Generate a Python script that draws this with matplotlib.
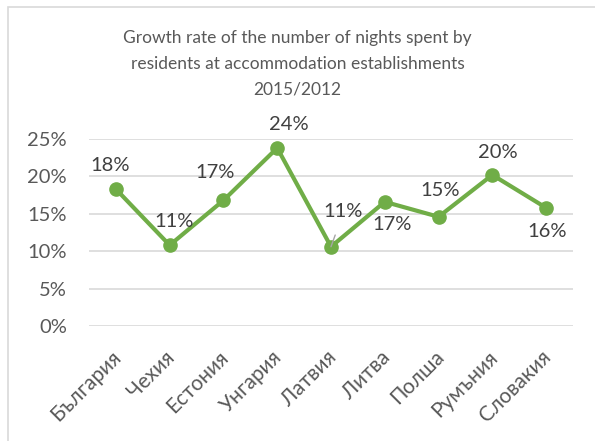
import matplotlib.pyplot as plt
from matplotlib.patches import Rectangle
from matplotlib.ticker import FuncFormatter
from matplotlib.transforms import ScaledTranslation

plt.rcParams['font.family'] = ['Lato', 'DejaVu Sans']

countries = ['България', 'Чехия', 'Естония', 'Унгария', 'Латвия',
             'Литва', 'Полша', 'Румъния', 'Словакия']
growth = [18.3, 10.8, 16.8, 23.8, 10.6, 16.6, 14.6, 20.2, 15.8]
labels = ['18%', '11%', '17%', '24%', '11%', '17%', '15%', '20%', '16%']
# label offsets in points (dx, dy) around each marker
offsets = [(-4, 17), (3, 17), (-6, 20), (8, 17), (9, 25),
           (5, -16), (1, 19), (4, 16), (1, -17)]

green = '#70AD47'
grey_text = '#595959'

fig = plt.figure(figsize=(5.95, 4.41), dpi=100)
ax = fig.add_axes([89 / 595, 1 - 326 / 441, (573 - 89) / 595, (326 - 139) / 441])

x = range(len(countries))
ax.plot(x, growth, color=green, lw=3, marker='o', ms=9.5, zorder=3,
        solid_joinstyle='round')

for i, (v, t, off) in enumerate(zip(growth, labels, offsets)):
    props = None
    if countries[i] == 'Латвия':
        props = dict(arrowstyle='-', color='#A6A6A6', lw=1, shrinkA=9, shrinkB=0)
    ax.annotate(t, (i, v), xytext=off, textcoords='offset points',
                ha='center', va='center', fontsize=14.5, color='#404040',
                arrowprops=props, zorder=4)

ax.set_xlim(-0.5, len(countries) - 0.5)
ax.set_ylim(0, 25)
ax.set_yticks(range(0, 26, 5))
ax.yaxis.set_major_formatter(FuncFormatter(lambda v, p: f'{v:.0f}%'))
ax.grid(axis='y', color='#D9D9D9', lw=1.2)
ax.set_axisbelow(True)
for s in ax.spines.values():
    s.set_visible(False)
ax.tick_params(length=0, colors=grey_text, labelsize=14.5)
ax.tick_params(axis='y', pad=16)
ax.set_xticks(list(x))
ax.set_xticklabels(countries, rotation=45, ha='right', rotation_mode='anchor',
                   fontsize=15)
ax.tick_params(axis='x', pad=15)
shift = ScaledTranslation(-5 / 100, 0, fig.dpi_scale_trans)
for lbl in ax.get_xticklabels():
    lbl.set_transform(lbl.get_transform() + shift)

fig.text(0.5, 1 - 64 / 441,
         'Growth rate of the number of nights spent by\n'
         'residents at accommodation establishments\n2015/2012',
         ha='center', va='center', fontsize=12.5, color=grey_text,
         linespacing=1.75)

# outer chart frame (top and left edges visible)
fig.patches.append(Rectangle((8 / 595, -0.2), 2, 1 - 7 / 441 + 0.2,
                             transform=fig.transFigure, fill=False,
                             edgecolor='#D9D9D9', lw=1.2))

fig.savefig('out.png', dpi=100)
